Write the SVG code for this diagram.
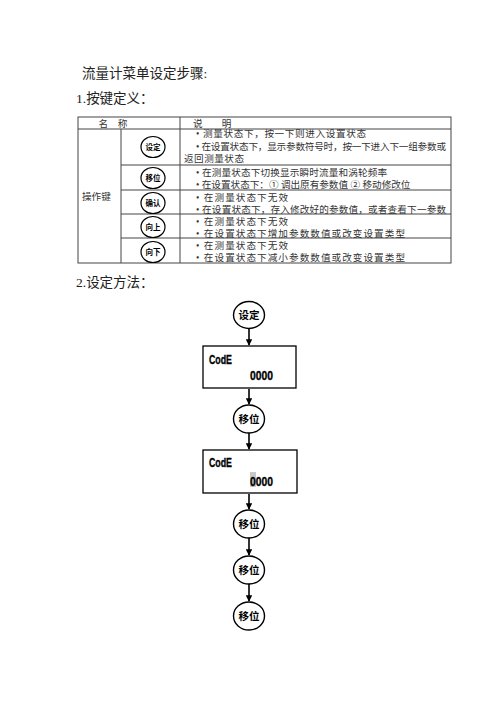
<svg xmlns="http://www.w3.org/2000/svg" width="496" height="702" viewBox="0 0 496 702">
<defs>
<marker id="ah" viewBox="0 0 10 10" refX="9" refY="5" markerWidth="4" markerHeight="4" orient="auto" markerUnits="strokeWidth">
<path d="M0,0 L10,5 L0,10 z" fill="#000"/>
</marker>
<style>
.t{font-family:"Liberation Serif","Noto Sans CJK SC",serif;fill:#222}
.h{font-size:13.5px}
.c{font-size:9.6px;fill:#333}
.grid{stroke:#444;stroke-width:1;fill:none}
.kb{fill:#fff;stroke:#000;stroke-width:1.2}
.kt{font-family:"Noto Sans CJK SC",sans-serif;font-weight:bold;font-size:7.5px;text-anchor:middle;fill:#000}
.fc{fill:#fff;stroke:#000;stroke-width:1.4}
.ft{font-family:"Noto Sans CJK SC",sans-serif;font-weight:bold;font-size:10.5px;text-anchor:middle;fill:#000}
.box{fill:#fff;stroke:#000;stroke-width:1.3}
.lcd{font-family:"Liberation Sans",sans-serif;font-weight:bold;font-size:13px;fill:#000;stroke:#000;stroke-width:0.35}
.ar{stroke:#000;stroke-width:1.6;fill:none;marker-end:url(#ah)}
</style>
</defs>
<rect width="496" height="702" fill="#fff"/>

<g id="headings">
<text class="t h" x="82" y="78">流量计菜单设定步骤:</text>
<text class="t h" x="76" y="103">1.按键定义：</text>
<text class="t h" x="76" y="287">2.设定方法：</text>
</g>

<g id="table">
<rect class="grid" x="78" y="117" width="373" height="146"/>
<line class="grid" x1="78" y1="129" x2="451" y2="129"/>
<line class="grid" x1="121" y1="129" x2="121" y2="263"/>
<line class="grid" x1="180" y1="117" x2="180" y2="263"/>
<line class="grid" x1="121" y1="165" x2="451" y2="165"/>
<line class="grid" x1="121" y1="190" x2="451" y2="190"/>
<line class="grid" x1="121" y1="214" x2="451" y2="214"/>
<line class="grid" x1="121" y1="238" x2="451" y2="238"/>
<text class="t c" x="113" y="127" text-anchor="middle">名　称</text>
<text class="t c" x="193" y="127">说　　明</text>
<text class="t c" x="82" y="200">操作键</text>
<text class="t c" x="196" y="137" textLength="170" lengthAdjust="spacing">• 测量状态下，按一下则进入设置状态</text>
<text class="t c" x="196" y="150" textLength="250" lengthAdjust="spacing">• 在设置状态下，显示参数符号时，按一下进入下一组参数或</text>
<text class="t c" x="184" y="162" textLength="60" lengthAdjust="spacing">返回测量状态</text>
<text class="t c" x="196" y="176" textLength="191" lengthAdjust="spacing">• 在测量状态下切换显示瞬时流量和涡轮频率</text>
<text class="t c" x="196" y="188">• 在设置状态下：① 调出原有参数值 ② 移动修改位</text>
<text class="t c" x="196" y="201" textLength="92" lengthAdjust="spacing">• 在测量状态下无效</text>
<text class="t c" x="196" y="213" textLength="250" lengthAdjust="spacing">• 在设置状态下，存入修改好的参数值，或者查看下一参数</text>
<text class="t c" x="196" y="225" textLength="92" lengthAdjust="spacing">• 在测量状态下无效</text>
<text class="t c" x="196" y="237" textLength="209" lengthAdjust="spacing">• 在设置状态下增加参数数值或改变设置类型</text>
<text class="t c" x="196" y="249" textLength="92" lengthAdjust="spacing">• 在测量状态下无效</text>
<text class="t c" x="196" y="261" textLength="209" lengthAdjust="spacing">• 在设置状态下减小参数数值或改变设置类型</text>
</g>

<g id="key-shezhi">
<ellipse class="kb" cx="153" cy="147" rx="12" ry="10.5"/>
<text class="kt" x="153" y="150">设定</text>
</g>
<g id="key-yiwei">
<ellipse class="kb" cx="153" cy="178" rx="12" ry="10.5"/>
<text class="kt" x="153" y="181">移位</text>
</g>
<g id="key-queren">
<ellipse class="kb" cx="153" cy="203" rx="12" ry="10.5"/>
<text class="kt" x="153" y="206">确认</text>
</g>
<g id="key-xiangshang">
<ellipse class="kb" cx="153" cy="227" rx="12" ry="10.5"/>
<text class="kt" x="153" y="230">向上</text>
</g>
<g id="key-xiangxia">
<ellipse class="kb" cx="153" cy="252" rx="12" ry="10.5"/>
<text class="kt" x="153" y="255">向下</text>
</g>

<g id="connectors">
<line class="ar" x1="249" y1="329" x2="249" y2="345"/>
<line class="ar" x1="249" y1="389" x2="249" y2="404"/>
<line class="ar" x1="249" y1="433" x2="249" y2="449"/>
<line class="ar" x1="249" y1="494" x2="249" y2="509"/>
<line class="ar" x1="249" y1="538" x2="249" y2="555"/>
<line class="ar" x1="249" y1="584" x2="249" y2="601"/>
</g>

<g id="f-shezhi">
<ellipse class="fc" cx="249" cy="315" rx="15.5" ry="13.5"/>
<text class="ft" x="249" y="319">设定</text>
</g>
<g id="f-display1">
<rect class="box" x="203" y="346" width="93" height="42"/>
<text class="lcd" x="209" y="364" textLength="23" lengthAdjust="spacingAndGlyphs">CodE</text>
<text class="lcd" x="250" y="380" textLength="23" lengthAdjust="spacingAndGlyphs">0000</text>
</g>
<g id="f-yiwei1">
<ellipse class="fc" cx="249" cy="419" rx="15.5" ry="14"/>
<text class="ft" x="249" y="423">移位</text>
</g>
<g id="f-display2">
<rect class="box" x="203" y="450" width="94" height="43"/>
<rect x="250" y="472" width="6" height="15" fill="#c8c8c8"/>
<text class="lcd" x="209" y="467" textLength="23" lengthAdjust="spacingAndGlyphs">CodE</text>
<text class="lcd" x="250" y="486" textLength="23" lengthAdjust="spacingAndGlyphs">0000</text>
</g>
<g id="f-yiwei2">
<ellipse class="fc" cx="249" cy="524" rx="15.5" ry="14"/>
<text class="ft" x="249" y="528">移位</text>
</g>
<g id="f-yiwei3">
<ellipse class="fc" cx="249" cy="570" rx="15.5" ry="14"/>
<text class="ft" x="249" y="574">移位</text>
</g>
<g id="f-yiwei4">
<ellipse class="fc" cx="249" cy="616" rx="15.5" ry="14"/>
<text class="ft" x="249" y="620">移位</text>
</g>
</svg>
